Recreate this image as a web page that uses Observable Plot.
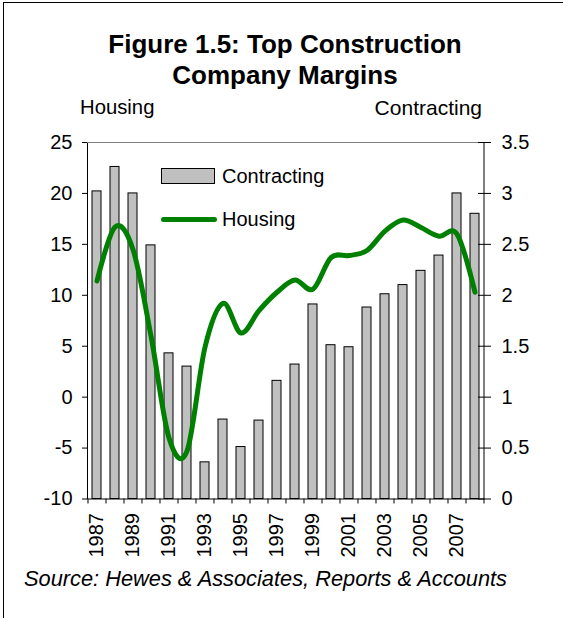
<!DOCTYPE html>
<html>
<head>
<meta charset="utf-8">
<script src="https://cdn.jsdelivr.net/npm/d3@7"></script>
<script src="https://cdn.jsdelivr.net/npm/@observablehq/plot@0.6"></script>
<style>
  html, body { margin: 0; padding: 0; background: #fff; }
  #wrap { position: relative; width: 563px; height: 618px; overflow: hidden; font-family: "Liberation Sans", Arial, sans-serif; color: #000; }
  #border { position: absolute; left: 3px; top: 2px; width: 700px; height: 700px; border-top: 1px solid #000; border-left: 1px solid #000; }
  .abs { position: absolute; white-space: nowrap; line-height: 1; }
  #title { left: 0; width: 570px; top: 29px; text-align: center; font-weight: bold; font-size: 26px; line-height: 31px; }
  #chart { position: absolute; left: 0; top: 0; }
</style>
</head>
<body>
<div id="wrap">
  <div id="border"></div>
  <div id="chart"></div>
  <div id="title" class="abs">Figure 1.5: Top Construction<br>Company Margins</div>
  <div class="abs" style="left:80px; top:97px; font-size:20.3px;">Housing</div>
  <div class="abs" style="right:81px; top:97px; font-size:21px;">Contracting</div>
  <div class="abs" style="left:161px; top:166px; font-size:20px; display:flex; align-items:center;">
    <svg width="55" height="17" style="margin-right:6px"><rect x="0.5" y="0.5" width="53" height="15" fill="#c0c0c0" stroke="#000"/></svg>Contracting</div>
  <div class="abs" style="left:161px; top:209px; font-size:20px; display:flex; align-items:center;">
    <svg width="56" height="17" style="margin-right:5px"><line x1="2.5" y1="8.5" x2="53.5" y2="8.5" stroke="#008000" stroke-width="5" stroke-linecap="round"/></svg>Housing</div>
  <div class="abs" style="left:24px; top:568px; font-size:21.8px; font-style:italic;">Source: Hewes &amp; Associates, Reports &amp; Accounts</div>
</div>
<script>
const years = [1987,1988,1989,1990,1991,1992,1993,1994,1995,1996,1997,1998,1999,2000,2001,2002,2003,2004,2005,2006,2007,2008];
// Contracting margin (%) – right axis, bars
const contracting = [3.02,3.26,3.0,2.49,1.43,1.3,0.36,0.78,0.51,0.77,1.16,1.32,1.91,1.51,1.49,1.88,2.01,2.1,2.24,2.39,3.0,2.8];
// Housing margin (%) – left axis, line
const housing = [11.4,16.7,14.5,6.0,-4.0,-5.3,4.9,9.2,6.3,8.5,10.3,11.5,10.6,13.7,13.9,14.4,16.3,17.4,16.65,15.8,16.0,10.3];
const leftTicks = [-10,-5,0,5,10,15,20,25];
const yearLabels = [1987,1989,1991,1993,1995,1997,1999,2001,2003,2005,2007];

const data = years.map((year, i) => ({year, c: contracting[i], h: housing[i]}));
// right axis 0..3.5 maps onto left axis -10..25
const toLeft = v => v * 10 - 10;
const toRight = v => (v + 10) / 10;

const W = 563, H = 618, mL = 87, mR = 79.5, mT = 142, mB = 119.5;
const step = (W - mL - mR) / years.length;

const chart = Plot.plot({
  width: W, height: H,
  marginLeft: mL, marginRight: mR, marginTop: mT, marginBottom: mB,
  style: {fontFamily: "Liberation Sans, Arial, sans-serif", fontSize: "20px", color: "#000", background: "transparent", overflow: "visible"},
  x: {type: "band", domain: years, paddingInner: 0.5, paddingOuter: 0.25, axis: null},
  y: {domain: [-10, 25], axis: null},
  marks: [
    Plot.barY(data, {x: "year", y1: -10, y2: d => toLeft(d.c), fill: "#c0c0c0", stroke: "#000", strokeWidth: 1}),
    Plot.lineY(data, {x: "year", y: "h", curve: "cardinal", stroke: "#008000", strokeWidth: 5, strokeLinejoin: "round", strokeLinecap: "round"}),
    Plot.frame({stroke: "#000"}),
    Plot.ruleY([25], {stroke: "#808080"}),
    Plot.axisY({anchor: "left", ticks: leftTicks, tickSize: 5, tickPadding: 10, label: null, tickFormat: d => String(d)}),
    Plot.axisY({anchor: "right", ticks: leftTicks, tickSize: 13, dx: -6.5, tickPadding: 11, label: null, tickFormat: d => String(toRight(d))}),
    Plot.axisX({ticks: years, tickSize: 5, tickFormat: () => "", dx: -step / 2, label: null}),
    Plot.axisX({ticks: [2008], tickSize: 5, tickFormat: () => "", dx: step / 2, label: null}),
    Plot.axisX({ticks: yearLabels, tickSize: 0, tickPadding: 14, tickRotate: -90, label: null, tickFormat: d => String(d)})
  ]
});
document.getElementById("chart").appendChild(chart);
</script>
</body>
</html>
